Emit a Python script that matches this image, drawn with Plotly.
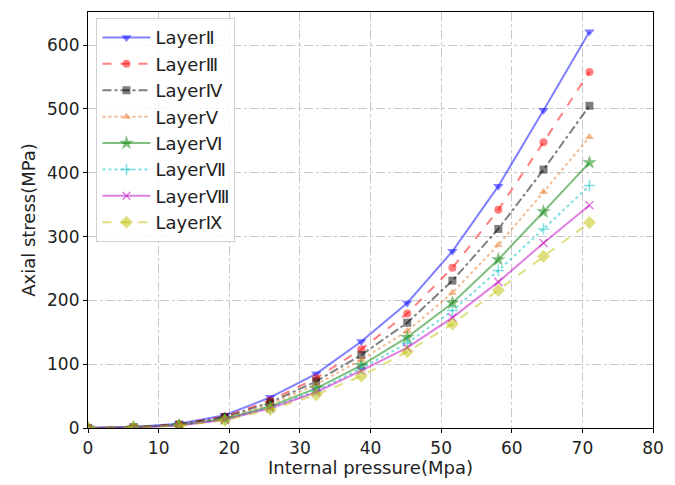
import plotly.graph_objects as go

# Internal pressure steps (MPa)
pressure = [0, 6.45, 12.9, 19.36, 25.8, 32.3, 38.7, 45.2, 51.6, 58.1, 64.5, 71.0]

# Axial stress for each layer (MPa)
layer_2 = [0, 1.5, 6.5, 20, 48, 85, 135.5, 196, 277, 379, 498, 621]
layer_3 = [0, 1.3, 5.8, 18, 43, 78, 123.6, 179.5, 251, 342, 448, 558]
layer_4 = [0, 1.2, 5.4, 17, 40, 73, 114.5, 165, 231, 312, 405, 505]
layer_5 = [0, 1.1, 5.0, 15.5, 37, 68, 107, 152, 212, 287, 370, 456]
layer_6 = [0, 1.0, 4.6, 14.5, 34, 62, 98, 142, 196, 264, 339, 416]
layer_7 = [0, 0.95, 4.3, 13.5, 32, 58, 93.5, 133, 184, 247, 312, 380]
layer_8 = [0, 0.9, 4.1, 13, 31, 56, 90, 126, 173, 229, 290, 349]
layer_9 = [0, 0.8, 3.7, 12, 29, 52, 81.5, 119.5, 163, 216, 269, 322]

names = ["LayerⅡ", "LayerⅢ", "LayerⅣ", "LayerⅤ", "LayerⅥ", "LayerⅦ", "LayerⅧ", "LayerⅨ"]
series = [layer_2, layer_3, layer_4, layer_5, layer_6, layer_7, layer_8, layer_9]

styles = [
    ("rgba(0,0,255,0.5)", "solid", "triangle-down", 9),
    ("rgba(255,0,0,0.5)", "dash", "circle", 8),
    ("rgba(0,0,0,0.5)", "dashdot", "square", 8),
    ("rgba(230,120,40,0.5)", "dot", "triangle-up", 8),
    ("rgba(0,128,0,0.5)", "solid", "star", 11),
    ("rgba(0,191,191,0.5)", "dot", "cross-thin", 8),
    ("rgba(191,0,191,0.5)", "solid", "x-thin", 8),
    ("rgba(191,191,0,0.5)", "dash", "diamond", 10),
]

fig = go.Figure()
for name, ys, (color, dash, symbol, size) in zip(names, series, styles):
    thin = symbol.endswith("-thin")
    fig.add_trace(go.Scatter(
        x=pressure, y=ys, name=name, mode="lines+markers",
        line=dict(color=color, width=2, dash=dash),
        marker=dict(symbol=symbol, size=size, color=color,
                    line=dict(color=color, width=1.5 if thin else 0)),
    ))

axis_common = dict(
    showline=True, linecolor="black", linewidth=1.2, mirror=True,
    ticks="outside", ticklen=4, tickcolor="black",
    showgrid=True, gridcolor="#c8c8c8", griddash="dashdot", gridwidth=1,
    zeroline=False,
    tickfont=dict(family="DejaVu Sans", size=17, color="#222"),
    title_font=dict(family="DejaVu Sans", size=18, color="#222"),
)

fig.update_layout(
    width=675, height=485,
    margin=dict(l=88, r=20, t=11, b=55),
    paper_bgcolor="white", plot_bgcolor="white",
    xaxis=dict(range=[0, 80], dtick=10, title=dict(text="Internal pressure(Mpa)", standoff=4), **axis_common),
    yaxis=dict(range=[0, 652], tick0=0, dtick=100, title=dict(text="Axial stress(MPa)", standoff=6), **axis_common),
    legend=dict(
        x=0.015, y=0.985, xanchor="left", yanchor="top",
        bgcolor="rgba(255,255,255,0.85)", bordercolor="#d0d0d0", borderwidth=1,
        font=dict(family="DejaVu Sans", size=18, color="#222"),
        itemwidth=48,
    ),
    showlegend=True,
)

fig.write_html("out.html")
